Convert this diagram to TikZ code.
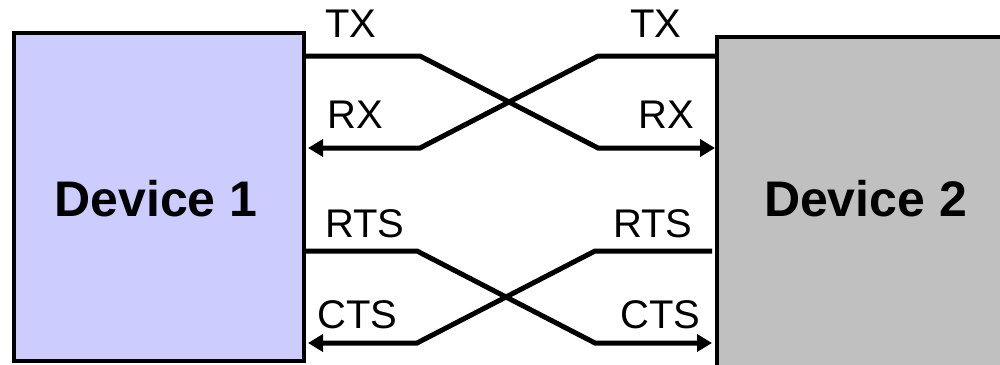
\documentclass[tikz,border=0pt]{standalone}
\usepackage{fontspec}
\setmainfont{Liberation Sans}
\usetikzlibrary{arrows.meta}
\definecolor{dev1}{RGB}{204,204,255}
\definecolor{dev2}{RGB}{192,192,192}
\tikzset{
  x=1pt, y=-1pt,
  devbox/.style={draw=black, line width=4pt, rectangle, inner sep=0pt},
  devlabel/.style={font=\bfseries\fontsize{50}{60}\selectfont, inner sep=0pt},
  siglabel/.style={font=\fontsize{40}{46}\selectfont, inner sep=0pt, anchor=base west},
  wire/.style={line width=5pt, black},
  wirearrow/.style={wire, -{Triangle[length=15pt,width=17pt]}}
}
\begin{document}
\begin{tikzpicture}
\useasboundingbox (0,0) rectangle (1000,364);
\clip (0,0) rectangle (1000,364);
\fill[white] (0,0) rectangle (1000,364);
% device boxes
\node[devbox, fill=dev1, minimum width=290pt, minimum height=328pt] (d1) at (159,197) {};
\node[devbox, fill=dev2, minimum width=300pt, minimum height=360pt] (d2) at (867,217) {};
\node[devlabel] (l1) at (156,199) {Device 1};
\node[devlabel] (l2) at (865.5,199) {Device 2};
% wire coordinates
\coordinate (tx1) at (306,56);
\coordinate (tx1b) at (420,56);
\coordinate (rx2b) at (598,148);
\coordinate (rx2) at (715,148);
\coordinate (tx2) at (717,56);
\coordinate (tx2b) at (598,56);
\coordinate (rx1b) at (420,148);
\coordinate (rx1) at (308,148);
\coordinate (rts1) at (306,251);
\coordinate (rts1b) at (417,251);
\coordinate (cts2b) at (595,343);
\coordinate (cts2) at (712,343);
\coordinate (rts2) at (712,251);
\coordinate (rts2b) at (595,251);
\coordinate (cts1b) at (417,343);
\coordinate (cts1) at (308,343);
% wires
\draw[wirearrow] (tx1) -- (tx1b) -- (rx2b) -- (rx2);
\draw[wirearrow] (tx2) -- (tx2b) -- (rx1b) -- (rx1);
\draw[wirearrow] (rts1) -- (rts1b) -- (cts2b) -- (cts2);
\draw[wirearrow] (rts2) -- (rts2b) -- (cts1b) -- (cts1);
% labels
\node[siglabel] (t1) at (325,37) {TX};
\node[siglabel] (t2) at (630,37) {TX};
\node[siglabel] (r1) at (327,128) {RX};
\node[siglabel] (r2) at (638,128) {RX};
\node[siglabel] (s1) at (325,237) {RTS};
\node[siglabel] (s2) at (613,237) {RTS};
\node[siglabel] (c1) at (317,328) {CTS};
\node[siglabel] (c2) at (620,328) {CTS};
\end{tikzpicture}
\end{document}
